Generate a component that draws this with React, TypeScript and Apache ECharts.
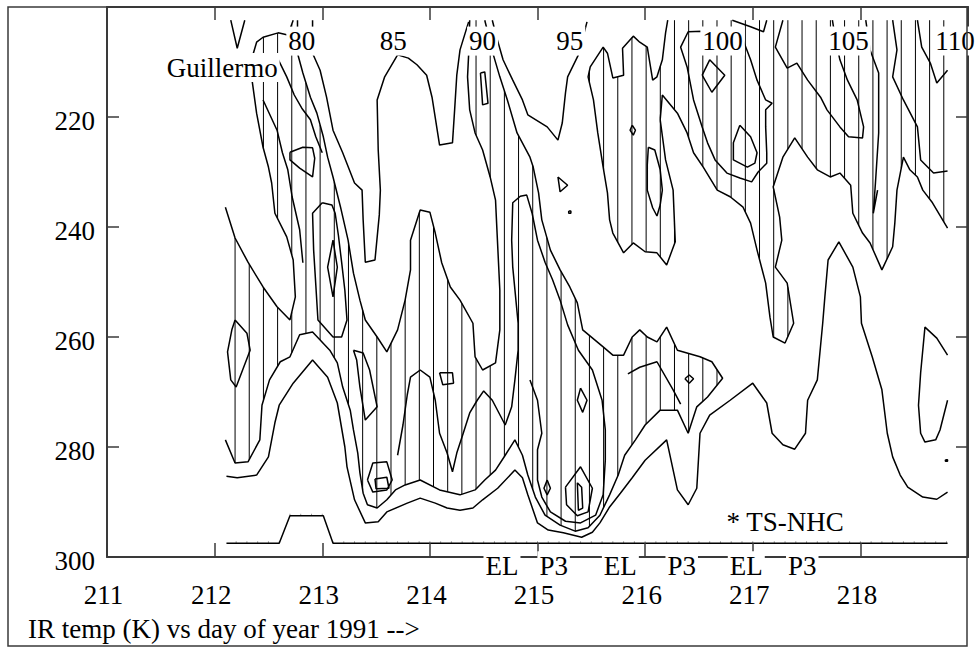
import React, { useEffect, useRef } from "react";
import * as echarts from "echarts";

// Axis ranges: day of year 1991 (x) and IR brightness temperature in K (y, inverted)
const DAY_MIN = 211;
const DAY_MAX = 219;
const TEMP_MIN = 200;
const TEMP_MAX = 300;
const dayTicks = [211, 212, 213, 214, 215, 216, 217, 218];
const tempTicks = [220, 240, 260, 280, 300];

const FONT = "Liberation Serif, Times New Roman, serif";
const FONT_SIZE = 27;

// ---- contour lines, [day, K] ----
const outerContour = [
  [212.11, 285.3], [212.21, 285.6], [212.39, 285.1], [212.5, 281.8], [212.56, 275.6], [212.6, 272.4], [212.73, 268.4],
  [212.91, 264.2], [213.05, 267.3], [213.14, 272.0], [213.21, 280.0], [213.23, 283.6], [213.3, 289.6], [213.4, 293.8],
  [213.52, 293.6], [213.6, 291.8], [213.79, 290.2], [213.91, 289.3], [214.05, 290.2], [214.16, 291.1], [214.28, 291.5],
  [214.4, 291.1], [214.49, 289.6], [214.63, 287.5], [214.79, 284.2], [214.86, 285.6], [214.91, 288.7], [215.0, 293.8],
  [215.1, 295.1], [215.24, 295.6], [215.41, 296.4], [215.51, 295.5], [215.58, 293.8], [215.67, 290.9], [215.77, 288.4],
  [215.88, 285.6], [216.0, 282.4], [216.2, 278.7], [216.3, 287.8], [216.4, 290.5], [216.48, 287.5], [216.51, 277.5],
  [216.6, 274.2], [216.79, 271.5], [217.0, 268.4], [217.13, 272.0], [217.18, 277.5], [217.28, 279.6], [217.39, 280.4],
  [217.49, 277.5], [217.51, 271.5], [217.6, 267.8], [217.65, 257.5], [217.67, 252.7], [217.7, 246.0], [217.8, 242.7],
  [217.93, 247.3], [218.0, 252.7], [218.01, 257.5], [218.11, 263.6], [218.2, 269.6], [218.25, 277.5], [218.3, 281.8],
  [218.37, 285.1], [218.44, 287.3], [218.58, 289.1], [218.71, 289.5], [218.81, 288.2],
];

// hatch boundary on the west side of the storm
const westEdge = [
  [212.1, 236.4], [212.19, 242.0], [212.31, 246.4], [212.45, 250.9], [212.58, 254.5], [212.7, 256.9], [212.75, 252.7],
  [212.73, 246.0], [212.67, 241.8], [212.56, 237.5], [212.53, 232.0], [212.5, 229.1], [212.45, 225.5], [212.39, 219.3],
  [212.35, 213.6], [212.36, 208.4], [212.39, 206.4], [212.45, 205.5], [212.59, 204.7], [212.68, 205.1], [212.73, 202.4],
];

const middleEdge = [
  [212.77, 202.4], [212.77, 208.4], [212.82, 212.0], [212.89, 216.4], [212.95, 219.3], [213.01, 223.6], [213.05, 227.3],
  [213.1, 230.9], [213.17, 236.4], [213.24, 242.4], [213.29, 248.4], [213.35, 253.3], [213.4, 256.9], [213.51, 260.0],
  [213.6, 262.7], [213.7, 258.7], [213.77, 253.3], [213.82, 247.8], [213.82, 242.4], [213.91, 236.9], [214.0, 237.3],
  [214.05, 241.1], [214.11, 246.5], [214.19, 250.9], [214.28, 253.3], [214.4, 257.5], [214.42, 263.6], [214.49, 266.0],
  [214.61, 264.7], [214.65, 258.7], [214.65, 251.5], [214.62, 239.3], [214.61, 235.1], [214.56, 230.9], [214.49, 226.0],
  [214.42, 222.9], [214.37, 218.7], [214.35, 212.7], [214.36, 208.7], [214.37, 202.4],
];

const clearLobes = [
  [212.91, 202.4], [212.91, 208.4], [212.98, 211.5], [213.04, 216.4], [213.1, 222.4], [213.19, 226.5], [213.3, 232.0],
  [213.37, 233.3], [213.38, 238.7], [213.4, 246.4], [213.49, 246.0], [213.53, 237.8], [213.54, 233.3], [213.52, 226.0],
  [213.51, 216.9], [213.58, 212.7], [213.7, 208.7], [213.8, 209.3], [213.88, 210.5], [213.97, 212.4], [214.02, 216.4],
  [214.09, 225.1], [214.21, 224.7], [214.23, 218.7], [214.25, 212.4], [214.28, 207.8], [214.36, 202.7],
];

const topNotch = [[212.15, 202.4], [212.21, 207.5], [212.28, 202.4]];

const pass90Lobe = [
  [214.58, 202.4], [214.62, 205.5], [214.68, 209.6], [214.77, 213.3], [214.86, 216.9], [214.91, 219.6], [215.09, 221.8],
  [215.19, 224.2], [215.23, 221.1], [215.26, 215.6], [215.28, 212.7], [215.38, 208.7], [215.46, 202.7],
];

// hatch boundary running down the day-215 band and back along the warm side
const southEdge = [
  [214.51, 202.4], [214.59, 208.7], [214.65, 212.7], [214.72, 216.9], [214.81, 222.9], [214.93, 227.3], [214.96, 229.1],
  [215.01, 233.8], [215.04, 238.7], [215.12, 244.2], [215.21, 247.8], [215.3, 250.9], [215.37, 253.8], [215.42, 258.7],
  [215.61, 261.8], [215.7, 263.3], [215.8, 263.3], [215.88, 260.0], [215.95, 258.7], [216.02, 260.0], [216.11, 260.9],
  [216.2, 258.2], [216.3, 262.4], [216.51, 263.6], [216.62, 264.5], [216.72, 267.5], [216.58, 270.9], [216.48, 272.7],
  [216.4, 277.5], [216.3, 273.3], [216.14, 273.3], [216.0, 276.0], [215.91, 278.7], [215.81, 281.5], [215.75, 285.1],
  [215.67, 288.7], [215.58, 292.4], [215.47, 294.7], [215.35, 295.3], [215.21, 294.2], [215.07, 292.4], [214.98, 289.1],
  [214.91, 285.1], [214.86, 281.5], [214.79, 278.7], [214.7, 281.5], [214.61, 284.2], [214.51, 286.0], [214.42, 287.8],
  [214.28, 288.7], [214.09, 287.8], [213.91, 286.0], [213.77, 286.9], [213.68, 287.8], [213.6, 289.6], [213.51, 291.1],
  [213.42, 290.5], [213.38, 288.4], [213.35, 284.7], [213.33, 281.1], [213.29, 276.9], [213.26, 273.3], [213.19, 269.1],
  [213.14, 264.7], [213.07, 262.4], [212.91, 259.1], [212.79, 259.6], [212.7, 263.6], [212.61, 264.5], [212.51, 267.8],
  [212.44, 272.4], [212.42, 278.7], [212.31, 282.7], [212.19, 282.9], [212.1, 278.7],
];

// hatch boundary of the eastern cold cloud shield
const eastEdge = [
  [218.81, 240.2], [218.67, 235.6], [218.58, 233.3], [218.53, 230.9], [218.46, 229.6], [218.4, 227.3], [218.34, 233.3],
  [218.32, 239.3], [218.3, 243.6], [218.2, 247.8], [218.09, 242.9], [218.02, 241.1], [217.93, 237.5], [217.91, 232.4],
  [217.81, 230.2], [217.72, 230.9], [217.6, 229.6], [217.51, 227.3], [217.39, 223.8], [217.28, 227.3], [217.19, 232.7],
  [217.25, 238.2], [217.27, 242.4], [217.21, 247.3], [217.32, 250.2], [217.38, 257.5], [217.3, 261.1], [217.19, 260.0],
  [217.16, 256.4], [217.12, 250.2], [217.04, 244.2], [216.98, 239.3], [216.91, 236.4], [216.79, 234.5], [216.67, 233.3],
  [216.54, 229.1], [216.45, 226.5], [216.39, 222.9], [216.3, 219.3], [216.16, 216.0], [216.14, 220.5], [216.19, 227.8],
  [216.26, 233.3], [216.28, 242.7], [216.2, 246.9], [216.11, 244.7], [216.0, 244.5], [215.89, 242.9], [215.8, 244.7],
  [215.7, 241.1], [215.67, 238.7], [215.65, 233.8], [215.61, 229.1], [215.56, 222.9], [215.52, 216.9], [215.47, 212.7],
  [215.49, 210.9], [215.61, 207.3], [215.65, 208.4], [215.7, 212.9], [215.8, 212.4], [215.79, 207.5], [215.89, 205.3],
  [215.95, 206.4], [216.02, 207.3], [216.05, 210.9], [216.07, 213.3], [216.11, 212.7], [216.16, 209.6], [216.19, 204.7],
  [216.21, 202.4],
];

const westInner1 = [
  [212.58, 209.1], [212.67, 212.7], [212.74, 216.0], [212.81, 218.4], [212.89, 220.5], [212.94, 223.6], [213.0, 226.5],
];
const westInner2 = [
  [212.45, 216.9], [212.58, 222.4], [212.63, 226.5], [212.68, 229.6], [212.72, 234.5], [212.79, 240.5], [212.82, 246.5],
];
const westCell = [
  [212.7, 226.4], [212.82, 225.5], [212.91, 225.6], [212.93, 227.5], [212.91, 230.9], [212.79, 229.3], [212.7, 227.8], [212.7, 226.4],
];
const westLoop = [
  [213.0, 235.6], [213.09, 236.0], [213.12, 237.5], [213.15, 241.5], [213.18, 246.4], [213.21, 251.5], [213.23, 256.9],
  [213.18, 260.0], [213.1, 260.0], [212.96, 256.9], [212.94, 250.5], [212.92, 244.2], [212.91, 237.5], [213.0, 235.6],
];
const westEllipse = [
  [212.19, 256.9], [212.3, 259.3], [212.33, 262.4], [212.26, 266.0], [212.2, 269.1], [212.15, 267.8], [212.12, 262.7],
  [212.16, 258.7], [212.19, 256.9],
];
const westDiamond = [[213.1, 242.4], [213.14, 247.3], [213.1, 252.7], [213.05, 247.3], [213.1, 242.4]];
const coreA = [[213.42, 286.0], [213.47, 282.9], [213.6, 282.7], [213.65, 286.0], [213.6, 287.8], [213.47, 288.2], [213.42, 286.0]];
const coreAInner = [[213.49, 285.8], [213.6, 285.5], [213.62, 287.5], [213.5, 287.6], [213.49, 285.8]];
const coreB = [[213.29, 262.4], [213.38, 262.9], [213.44, 266.0], [213.51, 272.7], [213.4, 275.1], [213.35, 269.1], [213.32, 264.2], [213.29, 262.4]];

// third level running from the day-214 cell through the day-215 band
const bandInner = [
  [213.7, 281.5], [213.75, 276.0], [213.79, 270.5], [213.82, 267.3], [213.91, 266.0], [214.0, 267.3], [214.05, 271.5],
  [214.09, 277.5], [214.16, 281.1], [214.21, 284.5], [214.25, 281.1], [214.31, 277.5], [214.37, 273.8], [214.44, 271.5],
  [214.5, 269.8], [214.58, 271.5], [214.7, 276.0], [214.76, 272.7], [214.79, 267.8], [214.82, 262.4], [214.82, 257.5],
  [214.77, 247.3], [214.76, 242.4], [214.77, 235.6], [214.84, 234.4], [214.9, 234.2], [214.95, 237.5], [215.0, 242.4],
  [215.07, 246.4], [215.14, 249.6], [215.21, 253.3], [215.28, 257.8], [215.38, 262.4], [215.51, 266.0], [215.6, 271.5],
  [215.63, 276.9], [215.63, 282.4], [215.61, 288.7], [215.54, 292.4], [215.4, 293.8], [215.26, 293.5], [215.12, 291.8],
  [215.04, 289.1], [215.0, 286.0], [215.0, 280.5], [215.04, 277.5], [215.0, 271.5], [214.93, 267.8],
];

const cellC = [[214.47, 212.0], [214.51, 211.8], [214.54, 217.5], [214.49, 217.8], [214.47, 212.0]];
const cellD = [[215.19, 230.9], [215.28, 232.4], [215.21, 233.6], [215.19, 230.9]];
const cellE = [[215.88, 221.5], [215.91, 222.4], [215.89, 223.3], [215.86, 222.4], [215.88, 221.5]];
const cellF = [[216.37, 267.6], [216.41, 266.9], [216.45, 267.6], [216.41, 268.4], [216.37, 267.6]];
const cellG = [[214.09, 266.5], [214.21, 266.5], [214.22, 268.4], [214.12, 268.7], [214.09, 266.5]];
const cellH = [[215.4, 269.3], [215.46, 271.5], [215.42, 273.7], [215.37, 271.5], [215.4, 269.3]];
const cellI = [[215.09, 286.0], [215.12, 287.5], [215.09, 288.7], [215.06, 287.5], [215.09, 286.0]];
const coreC = [[215.26, 287.3], [215.4, 283.6], [215.51, 287.5], [215.47, 291.8], [215.37, 292.5], [215.27, 290.5], [215.26, 287.3]];
const coreCInner = [[215.37, 286.5], [215.41, 287.3], [215.42, 291.1], [215.38, 291.5], [215.37, 286.5]];
const speckA = [[215.29, 237.1], [215.31, 237.1], [215.31, 237.5], [215.29, 237.5], [215.29, 237.1]];
const speckB = [[218.79, 282.3], [218.81, 282.3], [218.81, 282.6], [218.79, 282.6], [218.79, 282.3]];
const legLoop = [
  [216.03, 225.5], [216.09, 226.0], [216.14, 229.6], [216.16, 233.3], [216.14, 236.0], [216.11, 238.0], [216.07, 236.5],
  [216.02, 233.3], [216.02, 228.7], [216.03, 225.5],
];
const lowerInner = [[215.84, 266.7], [215.95, 265.5], [216.11, 264.5], [216.26, 269.6], [216.33, 272.2]];

const eastInner1 = [
  [216.53, 204.4], [216.4, 204.5], [216.33, 207.3], [216.39, 210.9], [216.45, 216.9], [216.53, 221.8], [216.58, 224.7],
  [216.65, 227.8], [216.76, 230.2], [216.88, 231.1], [216.99, 231.8], [217.05, 230.0], [217.13, 228.4], [217.13, 226.5],
  [217.12, 221.8], [217.12, 218.7], [217.18, 217.5], [217.12, 216.9], [217.04, 213.3], [216.98, 209.6], [216.91, 206.0],
  [216.84, 204.5], [216.53, 204.4],
];
const eastDiamond = [[216.53, 212.4], [216.6, 209.6], [216.74, 212.4], [216.62, 215.5], [216.53, 212.4]];
const eastTopDip = [[216.81, 202.4], [216.98, 203.6], [217.1, 204.5], [217.13, 202.4]];
const eastOval = [[216.88, 221.5], [216.98, 223.6], [217.04, 226.5], [217.02, 228.4], [216.95, 229.1], [216.82, 227.8], [216.82, 224.7], [216.88, 221.5]];
const eastInner2 = [
  [217.28, 202.4], [217.21, 207.3], [217.32, 211.1], [217.41, 210.2], [217.51, 213.3], [217.63, 216.4], [217.69, 218.7],
  [217.81, 221.8], [217.89, 223.6], [218.02, 223.8], [218.03, 221.8], [217.97, 216.9], [217.88, 213.3], [217.81, 209.6],
  [217.77, 206.0], [217.74, 202.4],
];
const eastInner3 = [[218.05, 202.4], [218.09, 207.8], [218.17, 212.0], [218.17, 222.9], [218.14, 232.0], [218.12, 237.5], [218.16, 233.3]];
const eastInner4 = [
  [218.3, 202.4], [218.34, 207.8], [218.3, 212.7], [218.4, 216.9], [218.53, 221.8], [218.56, 227.8], [218.68, 230.2], [218.81, 229.8],
];
const eastInner5 = [[218.53, 202.4], [218.57, 207.3], [218.65, 210.2], [218.71, 213.8], [218.81, 211.5]];
const eastWarm = [
  [218.81, 263.3], [218.71, 260.2], [218.6, 258.2], [218.56, 266.5], [218.54, 272.4], [218.56, 277.5], [218.6, 279.1],
  [218.7, 278.7], [218.74, 276.9], [218.81, 271.5],
];

const contourLines = [
  outerContour, westEdge, middleEdge, clearLobes, topNotch, pass90Lobe, southEdge, eastEdge,
  westInner1, westInner2, westCell, westLoop, westEllipse, westDiamond, coreA, coreAInner, coreB, bandInner,
  cellC, cellD, cellE, cellF, cellG, cellH, cellI, coreC, coreCInner, speckA, speckB, legLoop, lowerInner,
  eastInner1, eastDiamond, eastTopDip, eastOval, eastInner2, eastInner3, eastInner4, eastInner5, eastWarm,
];

// hatched (cold) areas, filled with the even-odd rule
const TOP_EDGE = 202.4;
const hatchRings = [
  [...westEdge, ...middleEdge, ...southEdge],
  [...eastEdge, [218.81, TOP_EDGE]],
];
const HATCH_FIRST_DAY = 212.19;
const HATCH_STEP_DAY = 0.1317;

// tropical storm status track (NHC), with a faint mark every tenth of a day
const nhcTrack = [[212.11, 297.5], [212.6, 297.5], [212.7, 292.5], [213.01, 292.5], [213.1, 297.5], [218.81, 297.5]];
const NHC_MARK_STEP = 0.1;

// image numbers along the top
const passLabels = [
  { day: 212.81, text: "80" }, { day: 213.66, text: "85" }, { day: 214.49, text: "90" }, { day: 215.3, text: "95" },
  { day: 216.72, text: "100" }, { day: 217.89, text: "105" }, { day: 218.88, text: "110" },
];
const PASS_TEMP = 206.2;

// aircraft flights along the bottom
const flightLabels = [
  { day: 214.67, text: "EL" }, { day: 215.15, text: "P3" }, { day: 215.77, text: "EL" },
  { day: 216.34, text: "P3" }, { day: 216.94, text: "EL" }, { day: 217.46, text: "P3" },
];
const FLIGHT_TEMP = 301.6;

const notes = [
  { day: 212.07, temp: 211.0, text: "Guillermo" },
  { day: 217.3, temp: 293.7, text: "* TS-NHC" },
];

const AXIS_COLOR = "#3a3a3a";

type Label = { day: number; temp: number; text: string; dx?: number; dy?: number; align?: string };

function textItems(items: Label[], boxed: boolean) {
  return {
    type: "custom",
    coordinateSystem: "cartesian2d",
    clip: false,
    silent: true,
    z: 20,
    data: items.map((it) => [it.day, it.temp]),
    renderItem: (params: any, api: any) => {
      const it = items[params.dataIndex];
      const p = api.coord([it.day, it.temp]);
      const align = it.align || "center";
      return {
        type: "text",
        x: p[0] + (it.dx || 0),
        y: p[1] + (it.dy || 0),
        style: {
          text: it.text,
          fontSize: FONT_SIZE,
          fontFamily: FONT,
          fill: "#000",
          align,
          verticalAlign: "middle",
          textAlign: align,
          textVerticalAlign: "middle",
          backgroundColor: boxed ? "#fff" : undefined,
          padding: boxed ? [1, 2, 1, 2] : 0,
          lineHeight: 27,
        },
      };
    },
  };
}

function trackTempAt(day: number) {
  for (let i = 0; i + 1 < nhcTrack.length; i++) {
    const [d0, k0] = nhcTrack[i];
    const [d1, k1] = nhcTrack[i + 1];
    if (day >= d0 && day <= d1) return k0 + ((day - d0) / (d1 - d0)) * (k1 - k0);
  }
  return nhcTrack[nhcTrack.length - 1][1];
}

export default function App() {
  const ref = useRef<HTMLDivElement>(null);

  useEffect(() => {
    document.body.style.margin = "0";
    if (!ref.current) return;
    const chart = echarts.init(ref.current, undefined, { renderer: "svg" });

    const hatchSeries = {
      type: "custom",
      coordinateSystem: "cartesian2d",
      clip: false,
      silent: true,
      z: 2,
      data: [[DAY_MIN, TEMP_MIN]],
      renderItem: (_params: any, api: any) => {
        const rings = hatchRings.map((r) => r.map((p) => api.coord(p)));
        const children: any[] = [];
        for (let d = HATCH_FIRST_DAY; d < DAY_MAX; d += HATCH_STEP_DAY) {
          const x = api.coord([d, TEMP_MIN])[0];
          const ys: number[] = [];
          for (const ring of rings) {
            for (let i = 0; i < ring.length; i++) {
              const a = ring[i];
              const b = ring[(i + 1) % ring.length];
              if ((a[0] <= x && b[0] > x) || (b[0] <= x && a[0] > x)) {
                const t = (x - a[0]) / (b[0] - a[0]);
                ys.push(a[1] + t * (b[1] - a[1]));
              }
            }
          }
          ys.sort((m, n) => m - n);
          for (let i = 0; i + 1 < ys.length; i += 2) {
            children.push({
              type: "line",
              shape: { x1: x, y1: ys[i], x2: x, y2: ys[i + 1] },
              style: { stroke: "#000", lineWidth: 1 },
            });
          }
        }
        return { type: "group", children };
      },
    };

    const lineSeries = contourLines.map((pts) => ({
      type: "line",
      data: pts,
      symbol: "none",
      showSymbol: false,
      silent: true,
      clip: false,
      z: 3,
      lineStyle: { color: "#000", width: 1.5 },
    }));

    const nhcSeries = {
      type: "line",
      data: nhcTrack,
      symbol: "none",
      silent: true,
      clip: false,
      z: 3,
      lineStyle: { color: "#000", width: 1.5 },
    };

    // faint upward marks along the NHC track
    const nhcMarks = {
      type: "custom",
      coordinateSystem: "cartesian2d",
      clip: false,
      silent: true,
      z: 3,
      data: [nhcTrack[0]],
      renderItem: (_params: any, api: any) => {
        const first = nhcTrack[0][0];
        const last = nhcTrack[nhcTrack.length - 1][0];
        const children: any[] = [];
        for (let d = Math.ceil(first * 10) / 10; d <= last + 1e-9; d += NHC_MARK_STEP) {
          const p = api.coord([d, trackTempAt(d)]);
          children.push({
            type: "line",
            shape: { x1: p[0], y1: p[1], x2: p[0], y2: p[1] - 2 },
            style: { stroke: "#9a9a9a", lineWidth: 1 },
          });
        }
        return { type: "group", children };
      },
    };

    // temperature tick labels, right-aligned beside the left axis
    const tempLabels: Label[] = tempTicks.map((t) => ({ day: DAY_MIN, temp: t, text: String(t), dx: -12, dy: 4, align: "right" }));

    const axisLine = { show: true, lineStyle: { color: AXIS_COLOR, width: 2 } };
    const tickStyle = { color: AXIS_COLOR, width: 1.5 };

    chart.setOption({
      animation: false,
      backgroundColor: "#fff",
      grid: { left: 107, top: 7, width: 861, height: 550, show: false },
      xAxis: [
        {
          type: "value", position: "bottom", min: DAY_MIN, max: DAY_MAX, interval: 1, z: 10,
          axisLine, splitLine: { show: false },
          axisTick: { inside: true, length: 14, lineStyle: tickStyle },
          axisLabel: {
            fontFamily: FONT, fontSize: FONT_SIZE, color: "#000", margin: 24, padding: [0, 7, 0, 0],
            formatter: (v: number) => (dayTicks.includes(v) ? String(v) : ""),
          },
        },
        {
          type: "value", position: "top", min: DAY_MIN, max: DAY_MAX, interval: 1, z: 10,
          axisLine, splitLine: { show: false },
          axisTick: { inside: true, length: 13, lineStyle: tickStyle },
          axisLabel: { show: false },
        },
      ],
      yAxis: [
        {
          type: "value", position: "left", inverse: true, min: TEMP_MIN, max: TEMP_MAX, interval: 20, z: 10,
          axisLine, splitLine: { show: false },
          axisTick: { inside: true, length: 12, lineStyle: tickStyle },
          axisLabel: { show: false },
        },
        {
          type: "value", position: "right", inverse: true, min: TEMP_MIN, max: TEMP_MAX, interval: 20, z: 10,
          axisLine, splitLine: { show: false },
          axisTick: { inside: true, length: 12, lineStyle: tickStyle },
          axisLabel: { show: false },
        },
      ],
      graphic: [
        {
          type: "rect", z: 30, silent: true,
          shape: { x: 8, y: 7, width: 959, height: 639 },
          style: { fill: "none", stroke: AXIS_COLOR, lineWidth: 1.5 },
        },
        {
          type: "text", z: 30, silent: true, x: 28, y: 629,
          style: {
            text: "IR temp (K) vs day of year 1991 -->", fontSize: FONT_SIZE, fontFamily: FONT, fill: "#000",
            textVerticalAlign: "middle", verticalAlign: "middle",
          },
        },
      ],
      series: [
        hatchSeries,
        ...lineSeries,
        nhcSeries,
        nhcMarks,
        textItems(passLabels.map((l) => ({ day: l.day, temp: PASS_TEMP, text: l.text })), true),
        textItems(flightLabels.map((l) => ({ day: l.day, temp: FLIGHT_TEMP, text: l.text })), true),
        textItems(notes, true),
        textItems(tempLabels, false),
      ],
    });

    return () => chart.dispose();
  }, []);

  return <div ref={ref} style={{ width: 980, height: 649 }} />;
}
